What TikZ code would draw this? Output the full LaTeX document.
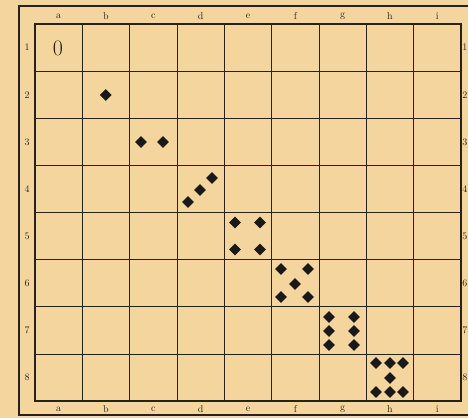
\documentclass[tikz,border=0pt]{standalone}
\usetikzlibrary{shapes.geometric}
\definecolor{paper}{RGB}{244,213,158}
\definecolor{ink}{RGB}{40,34,28}
\tikzset{
  pip/.style={diamond,fill=black!90,inner sep=0pt,minimum width=12pt,minimum height=12pt},
  collabel/.style={font=\fontsize{10}{11}\selectfont,text=ink,inner sep=0pt},
  rowlabel/.style={font=\fontsize{10}{11}\selectfont,text=ink,inner sep=0pt}
}
\begin{document}
\begin{tikzpicture}[x=1pt,y=-1pt]
    \fill[paper] (0,0) rectangle (468,418);
    \useasboundingbox (0,0) rectangle (468,418);
    % frames
    \draw[ink,line width=1.4pt] (19,6) rectangle (472,415);
    \draw[ink,line width=1.6pt] (35,24) rectangle (461,401);
    % grid
    \foreach \k in {1,...,8}
        \draw[ink,line width=0.6pt] ({35+47.33*\k},24) -- ({35+47.33*\k},401);
    \foreach \r in {1,...,7}
        \draw[ink,line width=0.6pt] (35,{24+47.12*\r}) -- (461,{24+47.12*\r});
    % letters and numbers
    \foreach \c [count=\k] in {a,b,c,d,e,f,g,h,i} {
        \node[collabel] (top\c) at ({35+47.33*(\k-0.5)},16) {\c};
        \node[collabel] (bot\c) at ({35+47.33*(\k-0.5)},409) {\c};
    }
    \foreach \r in {1,...,8} {
        \node[rowlabel] (left\r) at (27,{24+47.12*(\r-0.5)}) {\r};
        \node[rowlabel,anchor=east] (right\r) at (467.5,{24+47.12*(\r-0.5)}) {\r};
    }
    \node[text=ink,font=\fontsize{22}{24}\selectfont] (zero) at (58,48) {0};
    % b2
    \node[pip] (b2) at (105.7,95) {};
    % c3
    \node[pip] (c3a) at (141,142) {};
    \node[pip] (c3b) at (163,142) {};
    % d4
    \node[pip] (d4a) at (188,202) {};
    \node[pip] (d4b) at (200,190) {};
    \node[pip] (d4c) at (212,178) {};
    % e5
    \node[pip] (e5a) at (235,222.5) {};
    \node[pip] (e5b) at (260,222.5) {};
    \node[pip] (e5c) at (235,249.5) {};
    \node[pip] (e5d) at (260,249.5) {};
    % f6
    \node[pip] (f6a) at (281,269) {};
    \node[pip] (f6b) at (308,269) {};
    \node[pip] (f6c) at (295,284) {};
    \node[pip] (f6d) at (281,297) {};
    \node[pip] (f6e) at (308,297) {};
    % g7
    \node[pip] (g7a) at (329,317) {};
    \node[pip] (g7b) at (354,317) {};
    \node[pip] (g7c) at (329,331) {};
    \node[pip] (g7d) at (354,331) {};
    \node[pip] (g7e) at (329,345) {};
    \node[pip] (g7f) at (354,345) {};
    % h8
    \node[pip] (h8a) at (376,363) {};
    \node[pip] (h8b) at (390,363) {};
    \node[pip] (h8c) at (403,363) {};
    \node[pip] (h8d) at (390,378) {};
    \node[pip] (h8e) at (376,392) {};
    \node[pip] (h8f) at (390,392) {};
    \node[pip] (h8g) at (403,392) {};
\end{tikzpicture}
\end{document}
